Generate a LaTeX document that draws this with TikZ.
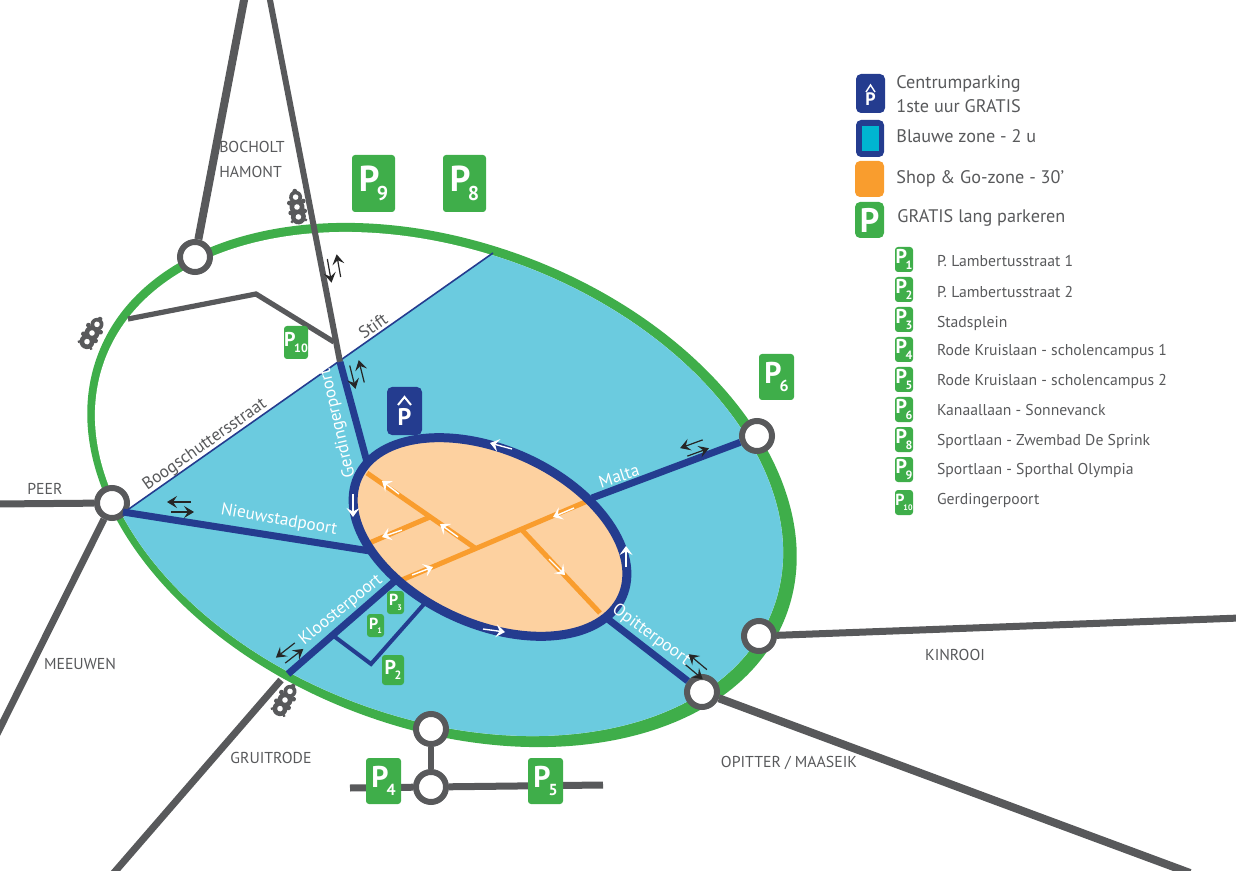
\documentclass[tikz,border=0pt]{standalone}
\usepackage{fontspec}
\setmainfont{PT Sans}
\usepackage{tikz}
\usetikzlibrary{arrows.meta,positioning,calc}

\definecolor{groen}{HTML}{3FAE4A}
\definecolor{cyaan}{HTML}{6BCBDF}
\definecolor{navy}{HTML}{243C8F}
\definecolor{weggrijs}{HTML}{58595B}
\definecolor{oranje}{HTML}{F99D2E}
\definecolor{licht}{HTML}{FDD1A0}
\definecolor{zone}{HTML}{00B5D1}

\newcommand{\parktekst}[2]{\bfseries\fontsize{#1}{#1}\selectfont P\kern-0.07em\raisebox{-0.27em}{\fontsize{\numexpr#1*55/100\relax}{1}\selectfont #2}}

\begin{document}
\begin{tikzpicture}[x=0.5pt,y=-0.5pt,
ringnode/.style={circle, draw=weggrijs, line width=3pt, fill=white, inner sep=0pt, minimum size=15pt},
weg/.style={draw=weggrijs, line width=3.5pt},
blauweg/.style={draw=navy, line width=3.5pt},
straat/.style={draw=oranje, line width=2.5pt},
witpijl/.style={draw=white, line width=0.7pt, -{Stealth[length=4.5pt,width=6.5pt,inset=1.8pt]}},
zwartpijl/.style={draw=black!85, line width=0.6pt, -{Stealth[length=5pt,width=6pt,inset=2pt]}},
parkbox/.style={fill=groen, rounded corners=1.5pt, text=white, inner sep=0pt, outer sep=0pt, minimum width=#1*0.5pt, align=center},
navybox/.style={fill=navy, rounded corners=2.5pt, inner sep=0pt},
plaats/.style={text=weggrijs, inner sep=0pt, font=\fontsize{7.9}{10}\selectfont},
wittekst/.style={text=white, inner sep=0pt, font=\fontsize{8.6}{10}\selectfont},
grijstekst/.style={text=weggrijs, inner sep=0pt, font=\fontsize{8.6}{10}\selectfont},
legtekst/.style={text=weggrijs, inner sep=0pt, anchor=west, text height=7pt, text depth=2pt, font=\fontsize{9.1}{11}\selectfont},
lijstbox/.style={parkbox=18, minimum height=12.5pt},
lijsttekst/.style={text=weggrijs, inner sep=0pt, outer sep=0pt, anchor=west, text height=7pt, text depth=2pt, font=\fontsize{7.85}{10}\selectfont},
dubbelpijl/.pic={
  \draw[zwartpijl] (10,-5) -- (-14,-5);
  \draw[zwartpijl] (-10,5) -- (13,5);
},
stoplicht/.pic={
  \fill[weggrijs] (0,-10) circle (6.5) (0,0) circle (7.5) (0,10) circle (7.5);
  \fill[weggrijs] (-7,-5) circle (2.4) (7,-5) circle (2.4) (-7,5) circle (2.4) (7,5) circle (2.4) (-7,14) circle (1.6) (7,14) circle (1.6) (0,-16) circle (2.4);
  \fill[white] (0,-10) circle (2.8) (0,0) circle (2.8) (0,10) circle (2.8);
},
]
\useasboundingbox (0,0) rectangle (1236,871);

% ring en blauwe zone
\fill[groen, rotate around={-20.8:(442,485)}] (442,485) ellipse [x radius=368, y radius=243];
\fill[white, rotate around={-20.4:(439,484)}] (439,484) ellipse [x radius=356.6, y radius=233.9];
\begin{scope}
\clip (0,599.6) -- (900,-33) -- (900,871) -- (0,871) -- cycle;
\fill[cyaan, rotate around={-20.4:(439,484)}] (439,484) ellipse [x radius=356.6, y radius=233.9];
\end{scope}

% rotondes
\node[ringnode] (bocholtrond) at (195,257) {};
\node[ringnode] (peerrond) at (112,503) {};
\node[ringnode] (maltarond) at (757,436) {};
\node[ringnode] (kinrooirond) at (759,636) {};
\node[ringnode] (opitterrond) at (702,692) {};
\node[ringnode] (kruisrond) at (431,729) {};
\node[ringnode] (campusrond) at (431,787) {};

% vrije eindpunten
\coordinate (bocholt) at (245,-5);
\coordinate (hamont) at (269,-5);
\coordinate (stift) at (340,362);
\coordinate (gerdinger) at (367,462);
\coordinate (boog1) at (126,511);
\coordinate (boog2) at (493,253);
\coordinate (tak1) at (128,319);
\coordinate (tak2) at (256,294);
\coordinate (tak3) at (334,342);
\coordinate (peer) at (-5,504);
\coordinate (meeuwen) at (-5,738);
\coordinate (gruit1) at (281,680);
\coordinate (gruit2) at (112,875);
\coordinate (kinrooi) at (1240,618);
\coordinate (maaseik) at (1190,873);
\coordinate (camp1) at (350,788);
\coordinate (camp2) at (603,785);
\coordinate (nieuw1) at (123,512);
\coordinate (nieuw2) at (370,551);
\coordinate (malta) at (592,498);
\coordinate (opit) at (600,613);
\coordinate (kloos1) at (288,674);
\coordinate (kloos2) at (396,580);
\coordinate (lus1) at (335,637);
\coordinate (lus2) at (371,664);
\coordinate (lus3) at (425,603);

\draw[navy, line width=0.8pt] (boog1) -- (boog2);

% wegen
\draw[weg, line width=4pt] (bocholt) -- (bocholtrond);
\draw[weg, line width=3pt] (hamont) -- (stift);
\draw[weg, line width=2.6pt, line join=miter] (tak1) -- (tak2) -- (tak3);
\draw[weg] (peer) -- (peerrond);
\draw[weg] (meeuwen) -- (peerrond);
\draw[weg] (gruit2) -- (gruit1);
\draw[weg] (kinrooirond) -- (kinrooi);
\draw[weg, line width=4pt] (opitterrond) -- (maaseik);
\draw[weg] (camp1) -- (campusrond);
\draw[weg] (campusrond) -- (camp2);
\draw[weg, line width=3pt] (kruisrond) -- (campusrond);

% poorten
\draw[blauweg] (stift) -- (gerdinger);
\draw[blauweg] (nieuw1) -- (nieuw2);
\draw[blauweg] (maltarond) -- (malta);
\draw[blauweg] (opit) -- (opitterrond);
\draw[blauweg] (kloos1) -- (kloos2);
\draw[blauweg, line width=2pt] (lus1) -- (lus2) -- (lus3);

% centrum
\fill[licht, rotate around={-24.4:(490,537)}] (490,537) ellipse [x radius=145, y radius=87];

\coordinate (s1) at (397,582);
\coordinate (s2) at (590,500);
\coordinate (s3) at (367,473);
\coordinate (s4) at (475,548);
\coordinate (s5) at (430,517);
\coordinate (s6) at (367,544);
\coordinate (s7) at (522,530);
\coordinate (s8) at (600,613);
\draw[straat] (s1) -- (s2);
\draw[straat] (s3) -- (s4);
\draw[straat] (s5) -- (s6);
\draw[straat] (s7) -- (s8);

\draw[navy, line width=4.5pt, rotate around={-24.4:(490,537)}] (490,537) ellipse [x radius=145, y radius=87];

% rijrichting
\draw[witpijl] (512,449) -- (490,443);
\draw[witpijl] (399,494) -- (382,481);
\draw[witpijl] (458,537) -- (440,524);
\draw[witpijl] (402,530) -- (382,537);
\draw[witpijl] (574,508) -- (553,517);
\draw[witpijl] (412,575) -- (433,567);
\draw[witpijl] (549,559) -- (565,575);
\draw[witpijl] (483,629) -- (505,632);
\draw[witpijl] (626,567) -- (626,546);
\draw[witpijl] (353,494) -- (353,517);

\pic[rotate=100] at (334,268) {dubbelpijl};
\pic[rotate=104] at (357,374) {dubbelpijl};
\pic at (181,507) {dubbelpijl};
\pic[rotate=20] at (695,448) {dubbelpijl};
\pic[rotate=-40] at (696,667) {dubbelpijl};
\pic[rotate=38] at (290,653) {dubbelpijl};

\pic[rotate=8] at (297,207) {stoplicht};
\pic[rotate=-30] at (92,333) {stoplicht};
\pic[rotate=-30] at (285,700) {stoplicht};

% parkings op de kaart
\node[parkbox=43, minimum height=28.5pt] (p9) at (373.5,183.5) {\parktekst{18}{9}};
\node[parkbox=43, minimum height=28.5pt] (p8) at (464.5,183.5) {\parktekst{18}{8}};
\node[parkbox=35, minimum height=23pt] (p6) at (776.5,377) {\parktekst{15}{6}};
\node[parkbox=24, minimum height=16.5pt] (p10) at (296,342.5) {\parktekst{10}{10}};
\node[parkbox=17, minimum height=11.5pt] (p3) at (395.5,602.5) {\parktekst{8}{3}};
\node[parkbox=17, minimum height=11.5pt] (p1) at (375.5,625.5) {\parktekst{8}{1}};
\node[parkbox=22, minimum height=15pt] (p2) at (393,670) {\parktekst{10}{2}};
\node[parkbox=35, minimum height=23pt] (p4) at (383.5,781) {\parktekst{15}{4}};
\node[parkbox=35, minimum height=23pt] (p5) at (545.5,781) {\parktekst{15}{5}};
\node[navybox, minimum width=17.5pt, minimum height=24pt] (centrum) at (404.5,411) {};
\node[text=white, inner sep=0pt, font=\bfseries\fontsize{12}{12}\selectfont] (centrumP) at (404.5,416.5) {P};
\draw[white, line width=1pt] (398,405) -- (404.5,397) -- (411,405);

% namen
\node[plaats, align=left] (bocholttxt) at (252,159.5) {BOCHOLT\\[2.4pt]HAMONT};
\node[plaats] (peertxt) at (45,489) {PEER};
\node[plaats] (meeuwentxt) at (80,664) {MEEUWEN};
\node[plaats] (gruittxt) at (271,758) {GRUITRODE};
\node[plaats] (kinrooitxt) at (955,655) {KINROOI};
\node[plaats] (maaseiktxt) at (789,763) {OPITTER / MAASEIK};
\node[grijstekst, rotate=35] (stifttxt) at (373,326) {Stift};
\node[grijstekst, rotate=35] (boogtxt) at (205,445) {Boogschuttersstraat};
\node[wittekst, rotate=103] (gerdingertxt) at (338,423) {Gerdingerpoort};
\node[wittekst, rotate=-10] (nieuwtxt) at (279,520) {Nieuwstadpoort};
\node[wittekst, rotate=18] (maltatxt) at (619,476) {Malta};
\node[wittekst, rotate=39] (kloostxt) at (341,610) {Kloosterpoort};
\node[wittekst, rotate=-36] (opittxt) at (651,635) {Opitterpoort};

% legende
\node[navybox, minimum width=14.5pt, minimum height=19.5pt] (legcentrum) at (870.5,93.5) {};
\node[text=white, inner sep=0pt, font=\bfseries\fontsize{9}{9}\selectfont] (legP) at (870.5,99.5) {P};
\draw[white, line width=0.7pt] (866,92) -- (870.5,85) -- (875,92);
\node[navybox, minimum width=14pt, minimum height=18.5pt] (legblauw) at (870,138.5) {};
\node[fill=zone, minimum width=8.5pt, minimum height=12.5pt, inner sep=0pt] (legzone) at (legblauw) {};
\node[fill=oranje, rounded corners=2.5pt, minimum width=14.5pt, minimum height=18pt, inner sep=0pt] (legoranje) at (869.5,179) {};
\node[parkbox=29, minimum height=18pt, rounded corners=2.5pt] (leggroen) at (869.5,220) {\bfseries\fontsize{17}{17}\selectfont P};

\node[legtekst] (tcentrum) at (896,84) {Centrumparking};
\node[legtekst] (tuur) at (896,108) {1ste uur GRATIS};
\node[legtekst] (tblauw) at (896,138) {Blauwe zone - 2 u};
\node[legtekst] (tshop) at (896,179) {Shop \& Go-zone - 30'};
\node[legtekst] (tgratis) at (897,218) {GRATIS lang parkeren};

\node[lijstbox] (l1) at (904,259.5) {\parktekst{10}{1}};
\node[lijstbox, below=2.5pt of l1] (l2) {\parktekst{10}{2}};
\node[lijstbox, below=2.5pt of l2] (l3) {\parktekst{10}{3}};
\node[lijstbox, below=2.5pt of l3] (l4) {\parktekst{10}{4}};
\node[lijstbox, below=2.5pt of l4] (l5) {\parktekst{10}{5}};
\node[lijstbox, below=2.5pt of l5] (l6) {\parktekst{10}{6}};
\node[lijstbox, below=2.5pt of l6] (l7) {\parktekst{10}{8}};
\node[lijstbox, below=2.5pt of l7] (l8) {\parktekst{10}{9}};
\node[lijstbox, below=4pt of l8] (l9) {\parktekst{8}{10}};

\node[lijsttekst, right=12pt of l1, yshift=-1.25pt] (t1) {P. Lambertusstraat 1};
\node[lijsttekst, right=12pt of l2, yshift=-1.5pt] (t2) {P. Lambertusstraat 2};
\node[lijsttekst, right=12pt of l3, yshift=-1.5pt] (t3) {Stadsplein};
\node[lijsttekst, right=12pt of l4, yshift=-0.5pt] (t4) {Rode Kruislaan - scholencampus 1};
\node[lijsttekst, right=12pt of l5, yshift=-0.5pt] (t5) {Rode Kruislaan - scholencampus 2};
\node[lijsttekst, right=12pt of l6, yshift=-0.5pt] (t6) {Kanaallaan - Sonnevanck};
\node[lijsttekst, right=12pt of l7, yshift=-0.5pt] (t7) {Sportlaan - Zwembad De Sprink};
\node[lijsttekst, right=12pt of l8] (t8) {Sportlaan - Sporthal Olympia};
\node[lijsttekst, right=12pt of l9, yshift=1.5pt] (t9) {Gerdingerpoort};

\end{tikzpicture}
\end{document}
